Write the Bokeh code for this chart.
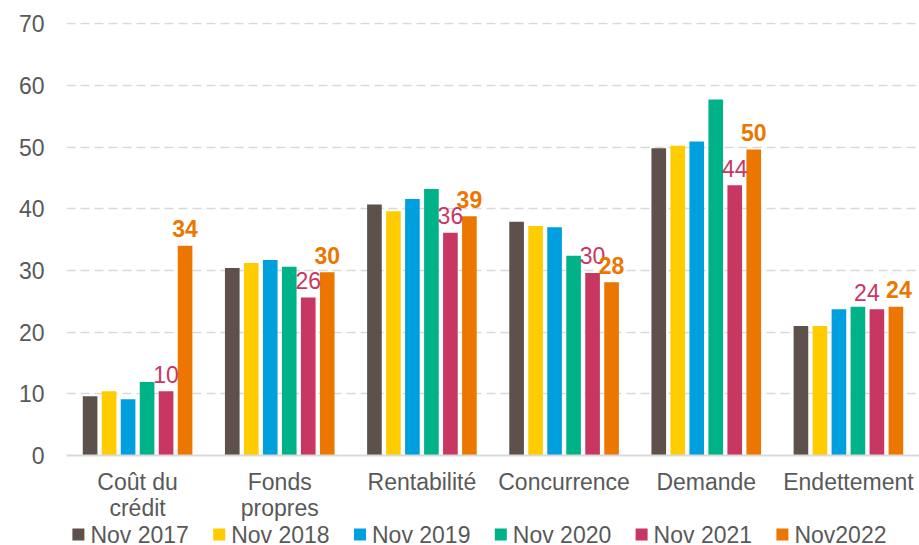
from bokeh.plotting import figure
from bokeh.layouts import column
from bokeh.models import ColumnDataSource, FactorRange, SingleIntervalTicker, Range1d
from bokeh.transform import dodge
from bokeh.core.properties import value
from bokeh.embed import file_html
from bokeh.resources import INLINE

categories = ["Coût du\ncrédit", "Fonds\npropres", "Rentabilité", "Concurrence", "Demande", "Endettement"]
series_names = ["Nov 2017", "Nov 2018", "Nov 2019", "Nov 2020", "Nov 2021", "Nov2022"]
nov2017 = [9.6, 30.4, 40.7, 37.9, 49.8, 21.0]
nov2018 = [10.4, 31.2, 39.6, 37.2, 50.2, 21.0]
nov2019 = [9.1, 31.7, 41.6, 37.0, 50.9, 23.7]
nov2020 = [11.9, 30.6, 43.2, 32.4, 57.7, 24.1]
nov2021 = [10.4, 25.6, 36.1, 29.6, 43.8, 23.7]
nov2022 = [34.0, 29.7, 38.8, 28.1, 49.6, 24.1]
colors = ["#5E504B", "#FFCC00", "#00A0DF", "#00B287", "#C83762", "#EC7700"]

FONT = "Liberation Sans"
GREY = "#595959"

series = [nov2017, nov2018, nov2019, nov2020, nov2021, nov2022]
data = {"cat": categories}
for i, s in enumerate(series):
    data["s%d" % i] = s
data["lab4"] = ["%d" % int(round(v)) for v in nov2021]
data["lab5"] = ["%d" % int(round(v)) for v in nov2022]
# small horizontal nudges of the data labels (last group, as in the original)
data["dx4"] = [0, 0, 0, 0, 0, -10]
data["dx5"] = [0, 0, 0, 0, 0, 3]
source = ColumnDataSource(data)

LEFT = 66
W = 919
p = figure(x_range=FactorRange(*categories), y_range=(0, 70.2),
           width=W, height=523, output_backend="svg", toolbar_location=None,
           min_border_left=LEFT, min_border_right=0, min_border_top=22, min_border_bottom=62)
p.outline_line_color = None
p.background_fill_color = "white"
p.border_fill_color = "white"

step = 0.1336
bw = 0.103
for i in range(6):
    off = (i - 2.5) * step
    p.vbar(x=dodge("cat", off, range=p.x_range), top="s%d" % i, width=bw,
           source=source, fill_color=colors[i], line_color=None)

# data labels
p.text(x=dodge("cat", 1.5 * step, range=p.x_range), y="s4", text="lab4", source=source,
       text_font=value(FONT), text_font_size="23px", text_color=colors[4],
       text_align="center", text_baseline="alphabetic", y_offset=-17, x_offset="dx4")
p.text(x=dodge("cat", 2.5 * step, range=p.x_range), y="s5", text="lab5", source=source,
       text_font=value(FONT), text_font_size="23px", text_color=colors[5], text_font_style="bold",
       text_align="center", text_baseline="alphabetic", y_offset=-17, x_offset="dx5")

# axes
p.yaxis.ticker = SingleIntervalTicker(interval=10)
p.yaxis.axis_line_color = None
p.yaxis.major_tick_line_color = None
p.yaxis.minor_tick_line_color = None
p.yaxis.major_label_standoff = 16
p.yaxis.major_label_text_font = FONT
p.yaxis.major_label_text_font_size = "23px"
p.yaxis.major_label_text_color = GREY

p.xaxis.axis_line_color = "#D9D9D9"
p.xaxis.axis_line_width = 2
p.xaxis.major_tick_line_color = None
p.xaxis.minor_tick_line_color = None
p.xaxis.major_label_standoff = 7
p.xaxis.major_label_text_font = FONT
p.xaxis.major_label_text_font_size = "23px"
p.xaxis.major_label_text_color = GREY
p.xaxis.major_label_text_line_height = 1.0

p.xgrid.grid_line_color = None
p.ygrid.grid_line_color = "#D9D9D9"
p.ygrid.grid_line_width = 1.5
p.ygrid.grid_line_dash = "9 5"

# legend strip below the chart: series index i is mapped by the x range
stride = 140.8
first = 77.9
lg = figure(width=W, height=22, output_backend="svg", toolbar_location=None,
            x_range=Range1d(-(first - LEFT) / stride, (W - first) / stride), y_range=Range1d(0, 1),
            min_border_left=LEFT, min_border_right=0, min_border_top=0, min_border_bottom=0)
lg.axis.visible = False
lg.grid.visible = False
lg.outline_line_color = None
lsrc = ColumnDataSource(dict(i=list(range(len(series_names))), name=series_names,
                             color=colors, y=[0.5] * len(series_names)))
lg.rect(x="i", y="y", width=12, height=12, width_units="screen", height_units="screen",
        fill_color="color", line_color=None, source=lsrc)
lg.text(x="i", y="y", text="name", source=lsrc, x_offset=12, y_offset=0,
        text_font=value(FONT), text_font_size="23px", text_color=GREY,
        text_align="left", text_baseline="middle")

layout = column(p, lg, spacing=0)
open("out.html", "w").write(file_html(layout, INLINE))
